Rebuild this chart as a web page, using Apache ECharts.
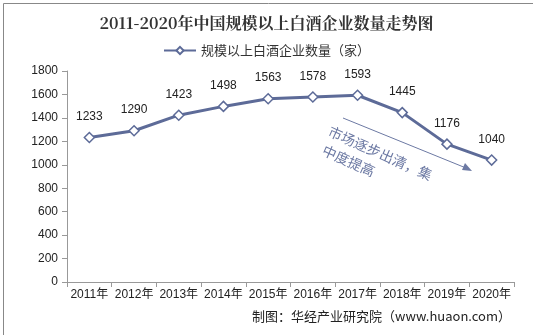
<!DOCTYPE html>
<html><head><meta charset="utf-8">
<script src="https://cdn.jsdelivr.net/npm/echarts@6/dist/echarts.min.js"></script>
<style>html,body{margin:0;padding:0;background:#fff}#c{width:533px;height:335px}</style>
</head><body><div id="c"></div>
<script>
const categories = ['2011年','2012年','2013年','2014年','2015年','2016年','2017年','2018年','2019年','2020年'];
const values = [1233,1290,1423,1498,1563,1578,1593,1445,1176,1040];
const seriesName = '规模以上白酒企业数量（家）';
const titleText = '2011-2020年中国规模以上白酒企业数量走势图';
const noteLine1 = '市场逐步出清，集';
const noteLine2 = '中度提高';
const sourceText = '制图：华经产业研究院（www.huaon.com）';

const chart = echarts.init(document.getElementById('c'));
const lineColor = '#5d6b98';
const noteColor = '#6c79a3';
const ang = -24 * Math.PI / 180;
chart.setOption({
  animation: false,
  title: {text: titleText, left: 'center', top: 10,
    textStyle: {fontFamily: 'Noto Serif CJK SC, Noto Sans CJK SC, serif', fontSize: 16, fontWeight: 'bold', color: '#333'}},
  legend: {top: 39, left: 'center', itemWidth: 32, itemHeight: 9, itemGap: 4,
    textStyle: {fontSize: 13, color: '#333', fontFamily: 'Noto Sans CJK SC'},
    data: [seriesName]},
  grid: {left: 67, right: 19, top: 71, bottom: 53, containLabel: false},
  xAxis: {type: 'category', data: categories, boundaryGap: true,
    axisLine: {lineStyle: {color: '#999'}},
    axisTick: {show: true, interval: 0, lineStyle: {color: '#999'}},
    axisLabel: {interval: 0, color: '#222', fontSize: 12, margin: 7, fontFamily: 'Liberation Sans, Noto Sans CJK SC'}},
  yAxis: {type: 'value', min: 0, max: 1800, interval: 200,
    axisLine: {show: true, lineStyle: {color: '#999'}},
    axisTick: {show: true, lineStyle: {color: '#999'}},
    splitLine: {show: false},
    axisLabel: {color: '#222', fontSize: 12, margin: 9, fontFamily: 'Liberation Sans', formatter: v => String(v)}},
  series: [{name: seriesName, type: 'line', data: values,
    symbol: 'diamond', symbolSize: 10,
    lineStyle: {color: lineColor, width: 3},
    itemStyle: {color: '#fff', borderColor: lineColor, borderWidth: 1.5},
    label: {show: true, position: 'top', distance: 9, color: '#222', fontSize: 12, fontFamily: 'Liberation Sans'}}],
  graphic: [
    {type: 'rect', left: 1, top: 1, shape: {width: 530, height: 332}, style: {fill: 'none', stroke: '#888', lineWidth: 1}, silent: true},
    {type: 'line', shape: {x1: 343, y1: 118, x2: 466, y2: 168}, style: {stroke: noteColor, lineWidth: 1}},
    {type: 'polygon', shape: {points: [[472,171],[462,170],[465,163]]}, style: {fill: noteColor}},
    {type: 'text', x: 332, y: 124, rotation: ang, style: {text: noteLine1, fill: noteColor, fontSize: 14, fontFamily: 'Noto Sans CJK SC'}},
    {type: 'text', x: 326, y: 143, rotation: ang, style: {text: noteLine2, fill: noteColor, fontSize: 14, fontFamily: 'Noto Sans CJK SC'}},
    {type: 'text', right: 22, top: 310, style: {text: sourceText, fill: '#222', fontSize: 13, fontFamily: 'Noto Sans CJK SC'}}
  ]
});
</script></body></html>
